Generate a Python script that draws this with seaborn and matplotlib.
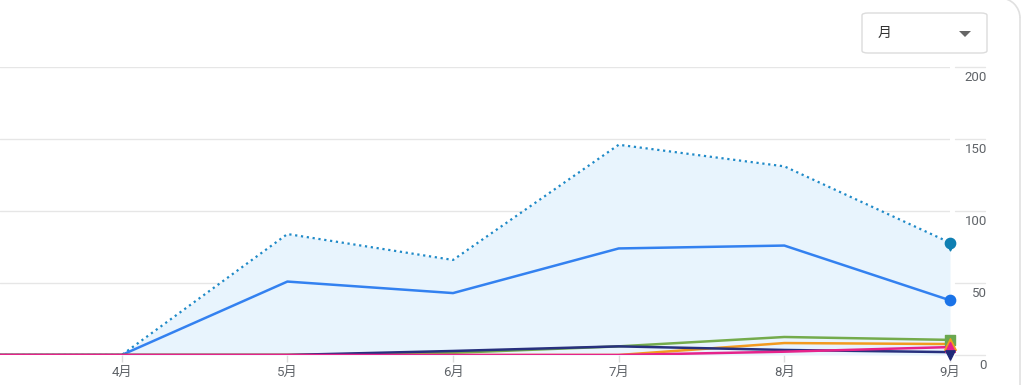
import matplotlib
matplotlib.use("Agg")
import matplotlib.pyplot as plt
import seaborn as sns
import pandas as pd
from matplotlib.patches import FancyBboxPatch, Polygon, Arc
from matplotlib.lines import Line2D

months = ["3月", "4月", "5月", "6月", "7月", "8月", "9月"]
upper = [0, 0, 84, 66, 146, 131, 78]
blue = [0, 0, 51, 43, 74, 76, 38]
green = [0, 0, 0, 1.5, 6, 12.5, 10.5]
orange = [0, 0, 0, 0, 0, 8.3, 7.6]
navy = [0, 0, 0, 2.8, 6, 3.5, 2]
pink = [0, 0, 0, 0, 0, 2.3, 5.5]
yticks = [0, 50, 100, 150, 200]
tick_months = ["4月", "5月", "6月", "7月", "8月", "9月"]

sns.set_theme(style="white")
plt.rcParams['font.family'] = ['Roboto', 'Noto Sans CJK JP', 'DejaVu Sans']

fig = plt.figure(figsize=(10.24, 3.85), dpi=100)
W, H = 1024, 385
ax = fig.add_axes([0, (H - 355) / H, 950 / W, (355 - 67) / H])

x = list(range(len(months)))
df = pd.DataFrame({"x": x, "upper": upper, "blue": blue, "green": green,
                   "orange": orange, "navy": navy, "pink": pink})

grid_c = "#e6e6e6"
for yv in yticks:
    ax.axhline(yv, color=grid_c, lw=1, zorder=0)
    ax.add_line(Line2D([955 / 950, 985 / 950], [yv, yv], transform=ax.get_yaxis_transform(),
                       color=grid_c, lw=1, clip_on=False, zorder=0))
    ax.text(987 / 950, yv - 2.5, str(yv), transform=ax.get_yaxis_transform(),
            ha="right", va="top", fontsize=9.5, color="#5f6368")

ax.fill_between(df["x"], 0, df["upper"], color="#e8f4fd", lw=0, zorder=1)

series = [
    ("upper", "#1f8ac8", ":", 1.6),
    ("blue", "#3381f0", "-", 1.8),
    ("green", "#74ab4c", "-", 1.8),
    ("orange", "#f29a1f", "-", 1.8),
    ("navy", "#27307e", "-", 1.8),
    ("pink", "#e5238b", "-", 1.8),
]
for i, (col, c, ls, lw) in enumerate(series):
    sns.lineplot(data=df, x="x", y=col, ax=ax, color=c, linestyle=ls, lw=lw, zorder=2 + i)

last = len(months) - 1
# end markers
ax.scatter([last], [upper[-1]], marker="o", s=55, color="#0f7fb2", zorder=20, clip_on=False)
ax.scatter([last], [upper[-1] - 2.5], marker="v", s=40, color="#0f7fb2", zorder=20, clip_on=False)
ax.scatter([last], [blue[-1]], marker="o", s=55, color="#1a73e8", zorder=20, clip_on=False)
ax.scatter([last], [green[-1]], marker="s", s=60, color="#6aa84f", zorder=20, clip_on=False)
ax.scatter([last], [orange[-1]], marker="^", s=70, color="#f29a1f", zorder=21, clip_on=False)
ax.scatter([last], [pink[-1]], marker="^", s=50, color="#e5238b", zorder=22, clip_on=False)
ax.scatter([last], [navy[-1] - 2], marker="v", s=45, color="#1f2a78", zorder=23, clip_on=False)

ax.set_xlim(1 - 122 / 166, last)
ax.set_ylim(0, 200)
ax.set_xticks(range(1, len(months)))
ax.set_xticklabels(tick_months)
ax.set_yticks([])
ax.set_xlabel("")
ax.set_ylabel("")
ax.tick_params(axis="x", length=5, color="#dddddd", width=1, labelsize=9.5,
               labelcolor="#5f6368", pad=3, bottom=True)
for s in ax.spines.values():
    s.set_visible(False)

# dropdown box
box = FancyBboxPatch((862 / W, 1 - 53 / H), (987 - 862) / W, 40 / H,
                     boxstyle="round,pad=0,rounding_size=0.006", transform=fig.transFigure,
                     fc="white", ec="#dcdcdc", lw=1)
fig.add_artist(box)
fig.text(878 / W, 1 - 33 / H, "月", ha="left", va="center", fontsize=10, color="#333333")
fig.add_artist(Polygon([[959 / W, 1 - 31 / H], [971 / W, 1 - 31 / H], [965 / W, 1 - 37 / H]],
                       closed=True, transform=fig.transFigure, fc="#666666", ec="none"))
# card border on the right with rounded corner
fig.add_artist(Line2D([1020 / W, 1020 / W], [0, 1 - 18 / H], transform=fig.transFigure,
                      color="#e0e0e0", lw=1.2))
fig.add_artist(Arc((1000 / W, 1 - 18 / H), 40 / W, 40 / H, theta1=0, theta2=90,
                   transform=fig.transFigure, color="#e0e0e0", lw=1.2))

fig.savefig("out.png", dpi=100)
